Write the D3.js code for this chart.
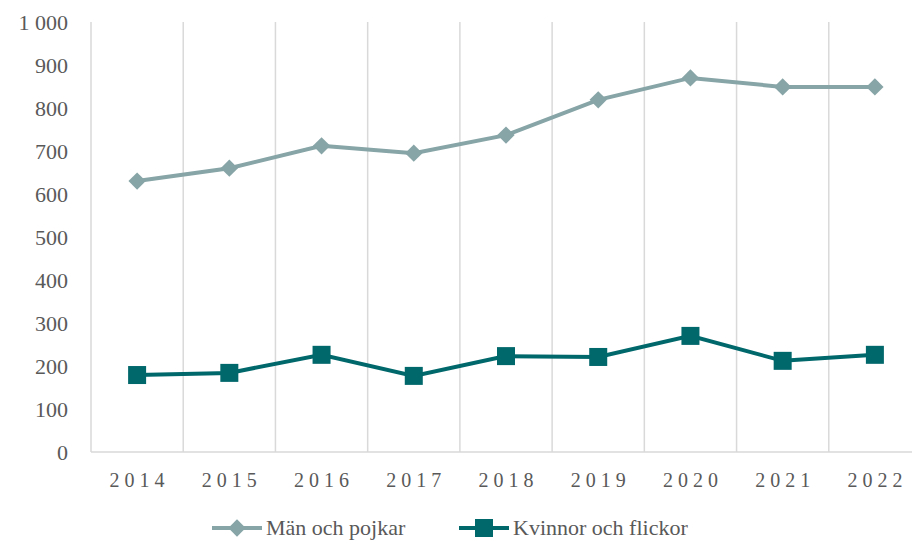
<!DOCTYPE html>
<html>
<head>
<meta charset="utf-8">
<script src="https://d3js.org/d3.v7.min.js"></script>
<style>
  body { margin: 0; background: #fff; }
  text { font-family: "Liberation Serif", "DejaVu Serif", serif; fill: #595959; }
</style>
</head>
<body>
<svg width="912" height="544"></svg>
<script>
  // data
  const years = ["2014", "2015", "2016", "2017", "2018", "2019", "2020", "2021", "2022"];
  const men = [630, 660, 712, 695, 737, 819, 870, 849, 849];
  const women = [179, 184, 226, 177, 223, 221, 270, 212, 226];
  const yTicks = [0, 100, 200, 300, 400, 500, 600, 700, 800, 900, 1000];
  const seriesNames = ["Män och pojkar", "Kvinnor och flickor"];

  const svg = d3.select("svg");
  const plotLeft = 91, plotRight = 921, plotTop = 22, plotBottom = 452;

  const x = d3.scaleBand().domain(years).range([plotLeft, plotRight]);
  const y = d3.scaleLinear().domain([0, 1000]).range([plotBottom, plotTop]);

  const fmt = d => d3.format(",")(d).replace(",", " ");

  // vertical gridlines at category boundaries
  svg.append("g")
    .selectAll("line")
    .data(years.concat(["end"]))
    .enter()
    .append("line")
    .attr("x1", (d, i) => plotLeft + i * x.bandwidth())
    .attr("x2", (d, i) => plotLeft + i * x.bandwidth())
    .attr("y1", plotTop)
    .attr("y2", plotBottom)
    .attr("stroke", "#d9d9d9")
    .attr("stroke-width", 1.5);

  // baseline
  svg.append("line")
    .attr("x1", plotLeft).attr("x2", plotRight)
    .attr("y1", plotBottom).attr("y2", plotBottom)
    .attr("stroke", "#d9d9d9").attr("stroke-width", 1.5);

  // y labels
  svg.append("g")
    .selectAll("text")
    .data(yTicks)
    .enter()
    .append("text")
    .attr("x", 68)
    .attr("y", d => y(d) + 8)
    .attr("text-anchor", "end")
    .style("font-size", "22px")
    .text(fmt);

  // x labels
  svg.append("g")
    .selectAll("text")
    .data(years)
    .enter()
    .append("text")
    .attr("x", d => x(d) + x.bandwidth() / 2 + 2.5)
    .attr("y", 487)
    .attr("text-anchor", "middle")
    .style("font-size", "20px")
    .style("letter-spacing", "5px")
    .text(d => d);

  const line = d3.line()
    .x((d, i) => x(years[i]) + x.bandwidth() / 2)
    .y(d => y(d));

  const colMen = "#87a4a6", colWomen = "#00676b";

  svg.append("path").datum(men).attr("d", line)
    .attr("fill", "none").attr("stroke", colMen).attr("stroke-width", 4);
  svg.append("path").datum(women).attr("d", line)
    .attr("fill", "none").attr("stroke", colWomen).attr("stroke-width", 4);

  const diamond = d3.symbol().type(d3.symbolSquare).size(150);

  svg.append("g").selectAll("path")
    .data(men).enter().append("path")
    .attr("d", diamond)
    .attr("transform", (d, i) => `translate(${x(years[i]) + x.bandwidth() / 2},${y(d)}) rotate(45)`)
    .attr("fill", colMen);

  svg.append("g").selectAll("rect")
    .data(women).enter().append("rect")
    .attr("x", (d, i) => x(years[i]) + x.bandwidth() / 2 - 9)
    .attr("y", d => y(d) - 9)
    .attr("width", 18).attr("height", 18)
    .attr("fill", colWomen);

  // legend
  const legend = [
    { name: seriesNames[0], color: colMen, x0: 212, shape: "diamond" },
    { name: seriesNames[1], color: colWomen, x0: 459, shape: "square" }
  ];
  const ly = 528;
  legend.forEach(l => {
    svg.append("line")
      .attr("x1", l.x0).attr("x2", l.x0 + 50)
      .attr("y1", ly).attr("y2", ly)
      .attr("stroke", l.color).attr("stroke-width", 4);
    if (l.shape === "diamond") {
      svg.append("path").attr("d", diamond)
        .attr("transform", `translate(${l.x0 + 25},${ly}) rotate(45)`)
        .attr("fill", l.color);
    } else {
      svg.append("rect").attr("x", l.x0 + 16).attr("y", ly - 9)
        .attr("width", 18).attr("height", 18).attr("fill", l.color);
    }
    svg.append("text")
      .attr("x", l.x0 + 54).attr("y", ly + 7)
      .style("font-size", "22px")
      .text(l.name);
  });
</script>
</body>
</html>
